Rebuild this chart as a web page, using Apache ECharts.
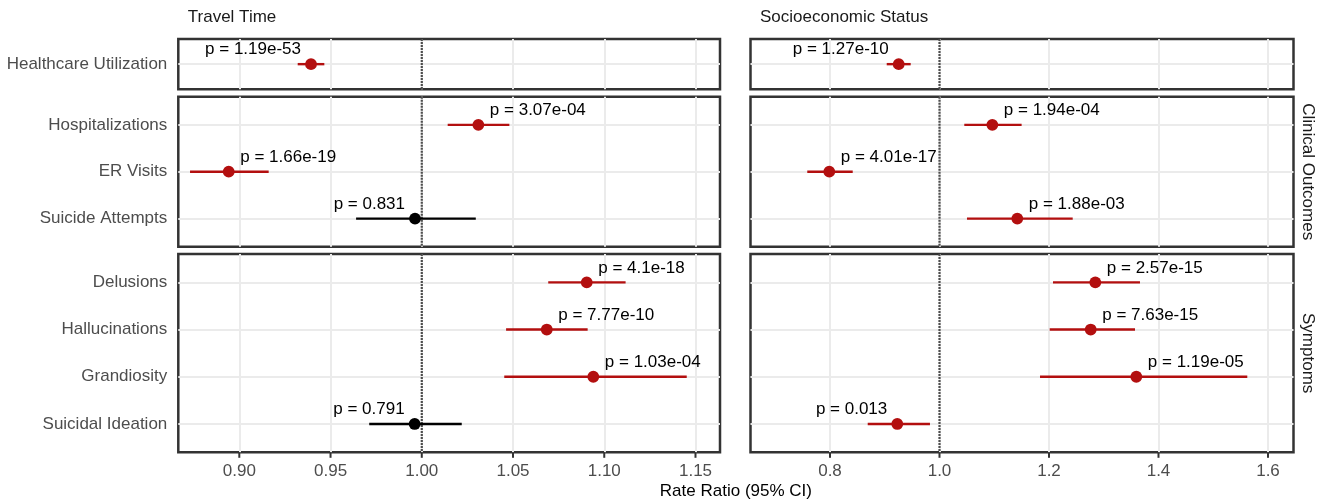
<!DOCTYPE html>
<html>
<head>
<meta charset="utf-8">
<script src="https://cdn.jsdelivr.net/npm/echarts@6/dist/echarts.min.js"></script>
<style>
html,body{margin:0;padding:0;background:#ffffff;}
#main{width:1325px;height:502px;}
</style>
</head>
<body>
<div id="main"></div>
<script>
// ---------------- DATA ----------------
const exposures = ['Travel Time', 'Socioeconomic Status'];
const groupNames = ['', 'Clinical Outcomes', 'Symptoms'];
const group0Outcomes = ['Healthcare Utilization'];
const group1Outcomes = ['Hospitalizations', 'ER Visits', 'Suicide Attempts'];
const group2Outcomes = ['Delusions', 'Hallucinations', 'Grandiosity', 'Suicidal Ideation'];

// order: Healthcare Utilization, Hospitalizations, ER Visits, Suicide Attempts,
//        Delusions, Hallucinations, Grandiosity, Suicidal Ideation
const travelRR = [0.9393, 1.0310, 0.8942, 0.9963, 1.0904, 1.0685, 1.0940, 0.9961];
const travelLo = [0.9320, 1.0142, 0.8730, 0.9640, 1.0693, 1.0462, 1.0452, 0.9712];
const travelHi = [0.9466, 1.0480, 0.9161, 1.0296, 1.1117, 1.0909, 1.1452, 1.0219];
const travelP  = ['1.19e-53', '3.07e-04', '1.66e-19', '0.831', '4.1e-18', '7.77e-10', '1.03e-04', '0.791'];

const sesRR = [0.9255, 1.0965, 0.7987, 1.1421, 1.2846, 1.2762, 1.3595, 0.9229];
const sesLo = [0.9036, 1.0453, 0.7585, 1.0502, 1.2073, 1.2013, 1.1836, 0.8689];
const sesHi = [0.9474, 1.1500, 0.8415, 1.2433, 1.3662, 1.3571, 1.5622, 0.9826];
const sesP  = ['1.27e-10', '1.94e-04', '4.01e-17', '1.88e-03', '2.57e-15', '7.63e-15', '1.19e-05', '0.013'];

const travelTicks = [0.90, 0.95, 1.00, 1.05, 1.10, 1.15];
const sesTicks = [0.8, 1.0, 1.2, 1.4, 1.6];
const referenceValue = 1;
const xAxisTitle = 'Rate Ratio (95% CI)';

// ---------------- LAYOUT / STYLE ----------------
const FONT = '"Liberation Sans", Arial, Helvetica, sans-serif';
const FS = 17;
const RED = '#B30F0F';
const BLACK = '#000000';
const GRIDC = '#EBEBEB';
const colLeft = [178.3, 750.5];
const colWidth = [541.7, 543];
const rowTop = [39, 96.7, 254];
const rowHeight = [50.3, 150, 198.3];
const xRanges = [[0.86657, 1.16343], [0.6548, 1.6466]];
const tickDecimals = [2, 1];
const TICK_LEN = 5.5;
// label anchor relative to point: 'L' = label to the left, 'R' = to the right
const labelSides = [
  ['L', 'R', 'R', 'L', 'R', 'R', 'R', 'L'],
  ['L', 'R', 'R', 'R', 'R', 'R', 'R', 'L']
];

const groups = [group0Outcomes, group1Outcomes, group2Outcomes];
const rrs = [travelRR, sesRR], los = [travelLo, sesLo], his = [travelHi, sesHi], ps = [travelP, sesP];
const ticksByCol = [travelTicks, sesTicks];

const grids = [], xAxes = [], yAxes = [], series = [];
let offsets = [];
{ let o = 0; groups.forEach(g => { offsets.push(o); o += g.length; }); }

for (let col = 0; col < 2; col++) {
  for (let row = 0; row < 3; row++) {
    const gi = col * 3 + row;
    const cats = groups[row];
    const n = cats.length;
    const idx = cats.map((_, i) => i);
    grids.push({
      left: colLeft[col], top: rowTop[row], width: colWidth[col], height: rowHeight[row],
      show: true, borderColor: '#333333', borderWidth: 2.5, backgroundColor: '#ffffff',
      containLabel: false
    });
    const ticks = ticksByCol[col];
    xAxes.push({
      gridIndex: gi, type: 'value', position: 'bottom', min: xRanges[col][0], max: xRanges[col][1],
      axisLine: { show: false, onZero: false },
      axisTick: { show: false, customValues: ticks },
      axisLabel: { show: row === 2, customValues: ticks, margin: 11,
                   formatter: v => Number(v).toFixed(tickDecimals[col]),
                   color: '#4D4D4D', fontSize: FS, fontFamily: FONT },
      splitLine: { show: true, lineStyle: { color: GRIDC, width: 2 } }
    });
    yAxes.push({
      gridIndex: gi, type: 'value', inverse: true, min: -0.6, max: n - 0.4,
      axisLine: { show: false, onZero: false },
      axisTick: { show: false, customValues: idx },
      axisLabel: { show: col === 0, customValues: idx, margin: 11,
                   formatter: v => cats[Math.round(v)],
                   color: '#4D4D4D', fontSize: FS, fontFamily: FONT },
      splitLine: { show: true, lineStyle: { color: GRIDC, width: 2 } }
    });
    // reference line at RR = 1
    series.push({
      type: 'custom', xAxisIndex: gi, yAxisIndex: gi, z: 2, silent: true,
      data: [[referenceValue]],
      encode: { x: 0 },
      renderItem: (params, api) => {
        const v = api.value(0);
        const a = api.coord([v, -0.6]);
        const b = api.coord([v, n - 0.4]);
        return { type: 'line', shape: { x1: a[0], y1: a[1], x2: b[0], y2: b[1] },
                 style: { stroke: '#4D4D4D', lineWidth: 2.2, lineDash: [2, 1] } };
      }
    });
    // outside tick marks below the bottom panels
    if (row === 2) {
      series.push({
        type: 'custom', xAxisIndex: gi, yAxisIndex: gi, z: 5, silent: true, clip: false,
        data: ticks.map(t => [t]),
        encode: { x: 0 },
        renderItem: (params, api) => {
          const p = api.coord([api.value(0), n - 0.4]);
          return { type: 'line', shape: { x1: p[0], y1: p[1], x2: p[0], y2: p[1] + TICK_LEN },
                   style: { stroke: '#333333', lineWidth: 2 } };
        }
      });
    }
    // forest estimates
    const off = offsets[row];
    const data = cats.map((c, i) => [i, los[col][off + i], his[col][off + i], rrs[col][off + i]]);
    series.push({
      type: 'custom', xAxisIndex: gi, yAxisIndex: gi, z: 3, clip: false,
      data: data,
      encode: { x: [1, 2, 3], y: 0 },
      renderItem: (params, api) => {
        const yi = api.value(0), lo = api.value(1), hi = api.value(2), rr = api.value(3);
        const k = off + params.dataIndex;
        const pStr = ps[col][k];
        const color = parseFloat(pStr) < 0.05 ? RED : BLACK;
        const a = api.coord([lo, yi]), b = api.coord([hi, yi]), c = api.coord([rr, yi]);
        const side = labelSides[col][k];
        return {
          type: 'group',
          children: [
            { type: 'line', shape: { x1: a[0], y1: a[1], x2: b[0], y2: b[1] },
              style: { stroke: color, lineWidth: 2.4 } },
            { type: 'circle', shape: { cx: c[0], cy: c[1], r: 5.9 }, style: { fill: color } },
            { type: 'text', x: c[0] + (side === 'L' ? -10 : 11.5), y: c[1] - 14.5,
              style: { text: 'p = ' + pStr, fill: '#000000', fontSize: FS, fontFamily: FONT,
                       align: side === 'L' ? 'right' : 'left', verticalAlign: 'middle' } }
          ]
        };
      }
    });
  }
}

const graphics = [];
exposures.forEach((e, col) => {
  graphics.push({ type: 'text', x: colLeft[col] + 9.5, y: 17.5,
    style: { text: e, fill: '#1A1A1A', fontSize: FS, fontFamily: FONT, align: 'left', verticalAlign: 'middle' } });
});
groupNames.forEach((g, row) => {
  if (!g) return;
  graphics.push({ type: 'text', x: 1308, y: rowTop[row] + rowHeight[row] / 2, rotation: -Math.PI / 2,
    style: { text: g, fill: '#1A1A1A', fontSize: FS, fontFamily: FONT, align: 'center', verticalAlign: 'middle' } });
});
graphics.push({ type: 'text', x: (colLeft[0] + colLeft[1] + colWidth[1]) / 2, y: 491.5,
  style: { text: xAxisTitle, fill: '#000000', fontSize: FS, fontFamily: FONT, align: 'center', verticalAlign: 'middle' } });

const chart = echarts.init(document.getElementById('main'), null, { renderer: 'canvas' });
chart.setOption({
  animation: false,
  backgroundColor: '#ffffff',
  grid: grids,
  xAxis: xAxes,
  yAxis: yAxes,
  series: series,
  graphic: graphics
});
</script>
</body>
</html>
